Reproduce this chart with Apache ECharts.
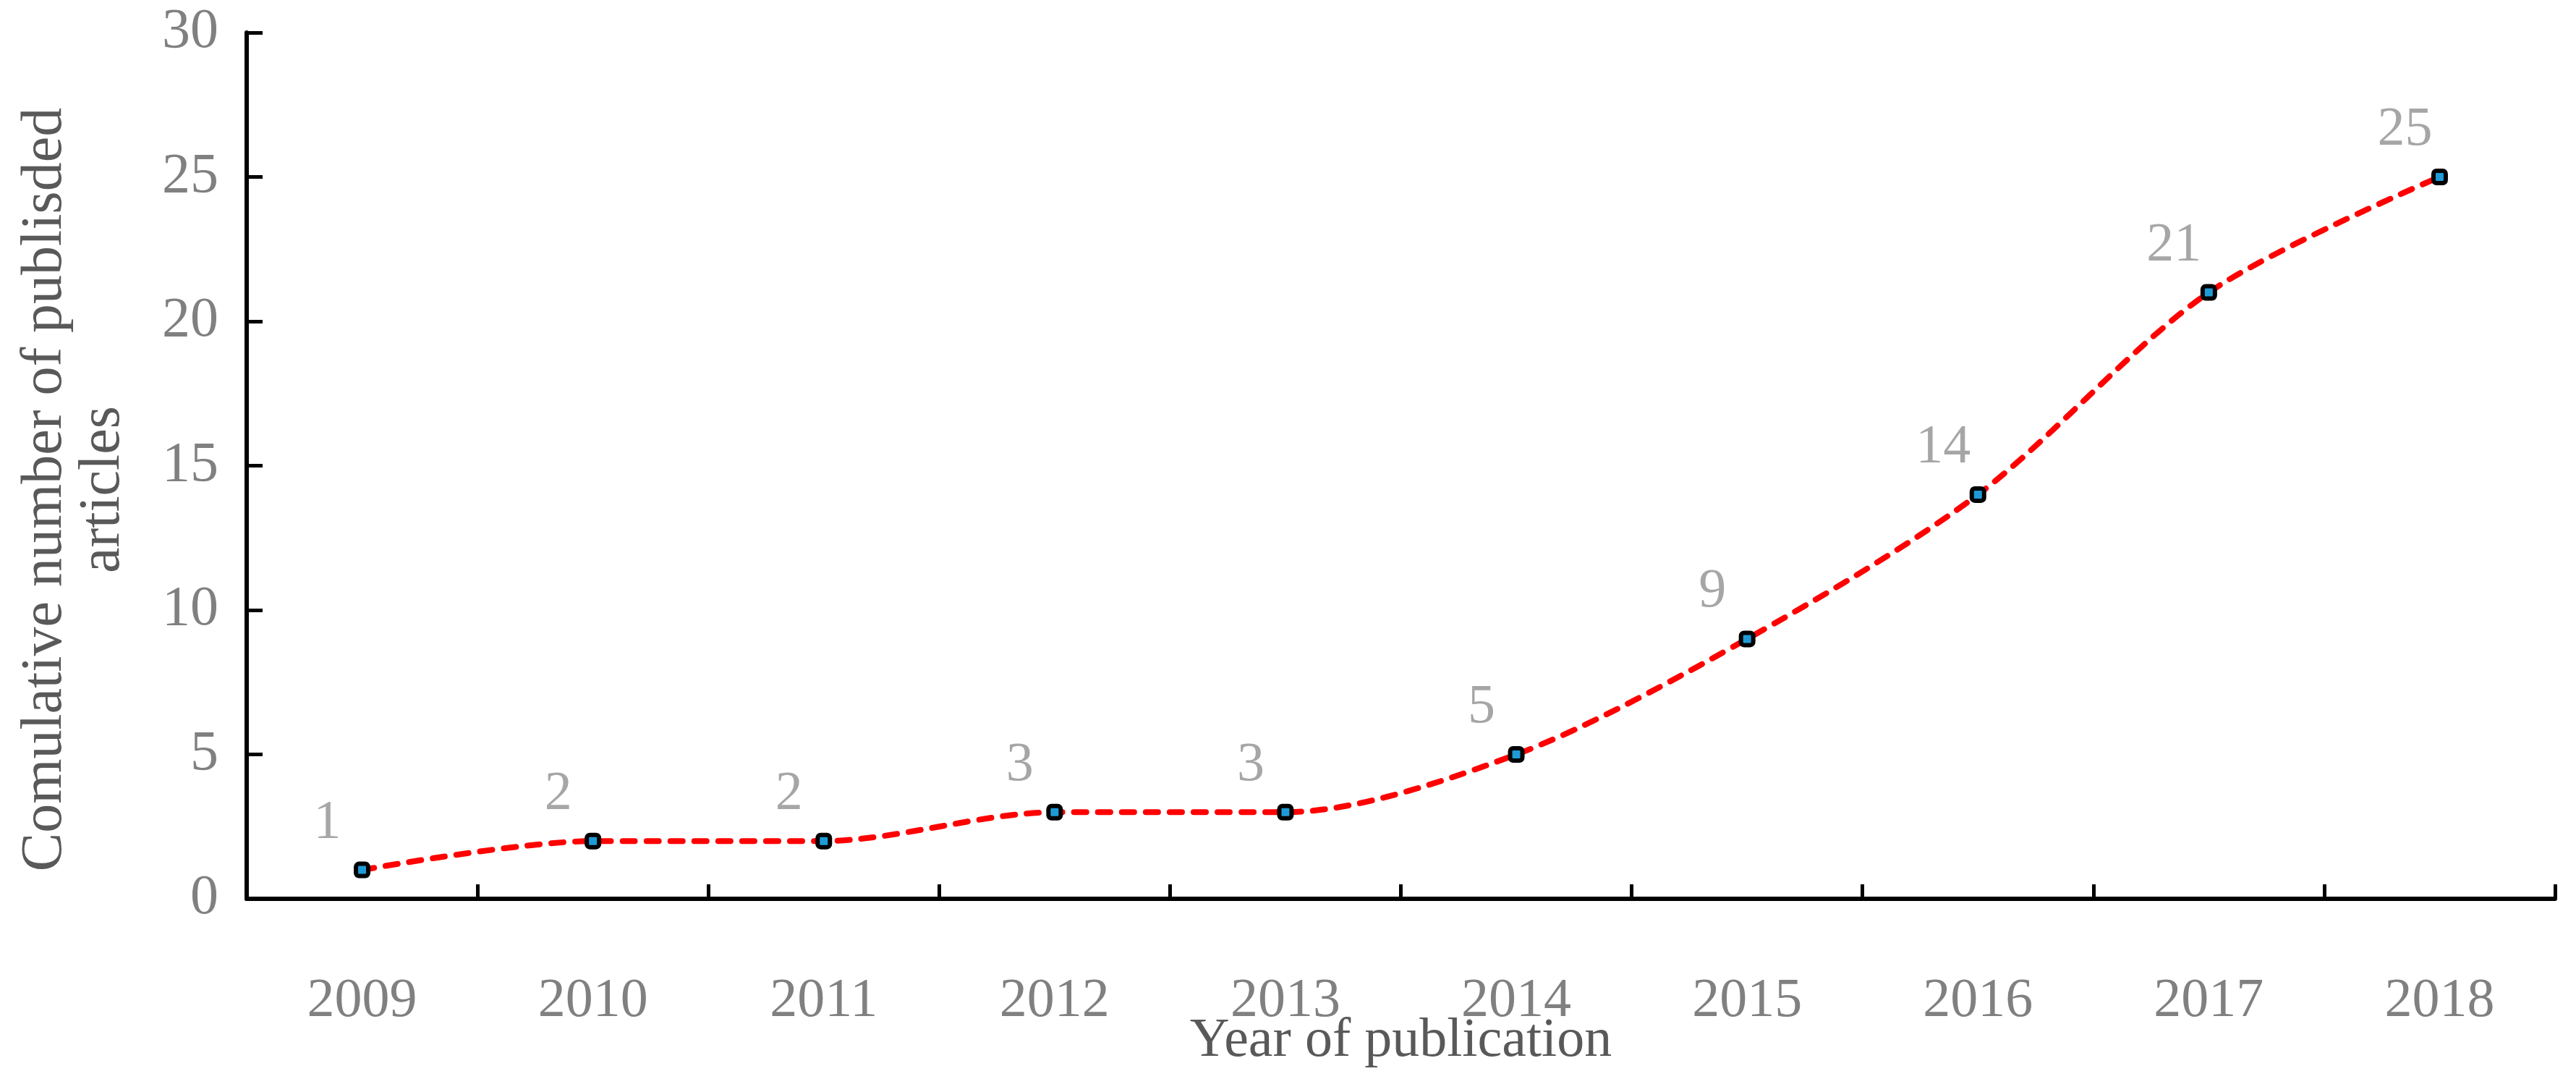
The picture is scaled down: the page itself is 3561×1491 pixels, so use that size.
<!DOCTYPE html>
<html>
<head>
<meta charset="utf-8">
<script src="https://cdn.jsdelivr.net/npm/echarts@6/dist/echarts.min.js"></script>
<style>html,body{margin:0;padding:0;background:#fff;overflow:hidden;}#chart{width:3561px;height:1491px;}</style>
</head>
<body>
<div id="chart"></div>
<script>
const years = ['2009','2010','2011','2012','2013','2014','2015','2016','2017','2018'];
const cumulative = [1, 2, 2, 3, 3, 5, 9, 14, 21, 25];
const yTicks = { min: 0, max: 30, interval: 5 };

const chart = echarts.init(document.getElementById('chart'), null, { renderer: 'canvas' });
const font = '"Liberation Serif", "Times New Roman", serif';
chart.setOption({
  animation: false,
  backgroundColor: '#ffffff',
  grid: { left: 341, right: 29, top: 45, bottom: 249, containLabel: false, outerBoundsMode: 'none' },
  xAxis: {
    type: 'category',
    data: years,
    boundaryGap: true,
    axisLine: { show: true, lineStyle: { color: '#000', width: 6 } },
    axisTick: { show: true, inside: true, length: 20, lineStyle: { color: '#000', width: 5 } },
    axisLabel: { color: '#808080', fontFamily: font, fontSize: 76, margin: 104 },
    name: 'Year of publication',
    nameLocation: 'middle',
    nameGap: 197,
    nameMoveOverlap: false,
    nameTextStyle: { color: '#595959', fontFamily: font, fontSize: 76, verticalAlign: 'middle' },
    splitLine: { show: false }
  },
  yAxis: {
    type: 'value',
    min: yTicks.min, max: yTicks.max, interval: yTicks.interval,
    axisLine: { show: true, lineStyle: { color: '#000', width: 6 } },
    axisTick: { show: true, inside: true, length: 22, lineStyle: { color: '#000', width: 5 } },
    axisLabel: { color: '#808080', fontFamily: font, fontSize: 78, margin: 39 },
    splitLine: { show: false },
    name: 'Comulative number of publisded\narticles',
    nameLocation: 'middle',
    nameRotate: 90,
    nameGap: 238,
    nameMoveOverlap: false,
    nameTextStyle: { color: '#595959', fontFamily: font, fontSize: 80, lineHeight: 80, verticalAlign: 'middle', align: 'center', padding: [0, 66, 0, 0] }
  },
  series: [{
    type: 'line',
    data: cumulative,
    smooth: 0.3,
    symbol: 'roundRect',
    symbolSize: 17,
    itemStyle: { color: '#1E9BD7', borderColor: '#000', borderWidth: 6 },
    lineStyle: { color: '#FF0000', width: 8, type: [17, 16], cap: 'round' },
    label: {
      show: true,
      position: 'top',
      offset: [-48, -10],
      color: '#A6A6A6',
      fontFamily: font,
      fontSize: 76
    },
    z: 3
  }]
});
</script>
</body>
</html>
